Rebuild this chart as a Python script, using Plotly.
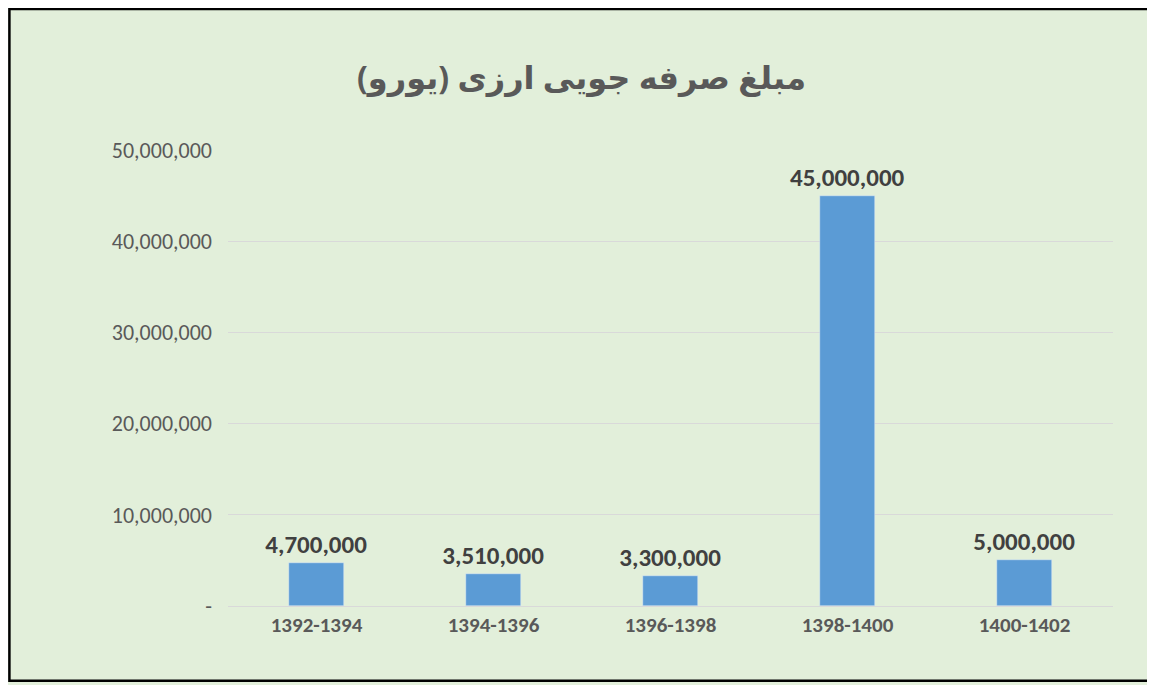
import plotly.graph_objects as go

categories = ["1392-1394", "1394-1396", "1396-1398", "1398-1400", "1400-1402"]
values = [4700000, 3510000, 3300000, 45000000, 5000000]
tick_vals = [0, 10000000, 20000000, 30000000, 40000000, 50000000]
tick_text = ["-", "10,000,000", "20,000,000", "30,000,000", "40,000,000", "50,000,000"]
title = "مبلغ صرفه جویی ارزی (یورو)"

fig = go.Figure(go.Bar(
    x=categories, y=values, width=0.31, marker_color="#5B9BD5",
    text=[f"<b>{v:,}</b>" for v in values], textposition="outside", cliponaxis=False,
    constraintext="none",
    textfont=dict(family="Calibri, Liberation Sans, Arial", size=25, color="#404040"),
))
fig.update_layout(
    width=1147, height=677, paper_bgcolor="#E2EFDA", plot_bgcolor="#E2EFDA",
    margin=dict(l=220, r=42, t=142, b=79),
    title=dict(text=f"<b>{title}</b>", x=0.5, xanchor="center", y=0.897, yanchor="middle",
               font=dict(family="Noto Sans, DejaVu Sans", size=32, color="#595959")),
    showlegend=False, bargap=0,
    shapes=[dict(type="rect", xref="paper", yref="paper", x0=-0.247, x1=1.041, y0=-0.164, y1=1.309,
                 line=dict(color="black", width=2.5))],
)
fig.update_yaxes(range=[0, 50000000], tickvals=tick_vals, ticktext=tick_text,
                 gridcolor="#D9D9D9", gridwidth=1.3, zeroline=False, ticks="", ticklabelstandoff=15,
                 tickfont=dict(family="Calibri, Liberation Sans, Arial", size=22, color="#595959"))
fig.update_xaxes(showline=True, linecolor="#D9D9D9", linewidth=1.3, ticks="",
                 tickfont=dict(family="Calibri, Liberation Sans, Arial", size=21, color="#595959"),
                 tickprefix="<b>", ticksuffix="</b>")
fig.write_html("out.html")
